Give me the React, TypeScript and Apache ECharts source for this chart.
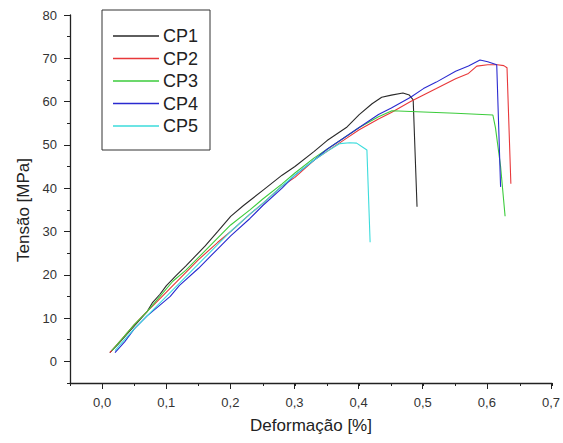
import React, { useEffect, useRef } from "react";
import * as echarts from "echarts";

const seriesNames = ["CP1", "CP2", "CP3", "CP4", "CP5"];
const seriesColors = ["#2a2a2a", "#e8383a", "#3ccc3c", "#2a2ad0", "#3cdcdc"];

const cp1Strain = [0.012, 0.025, 0.04, 0.055, 0.07, 0.078, 0.09, 0.1, 0.115, 0.13, 0.145, 0.16, 0.18, 0.2, 0.22, 0.25, 0.28, 0.3, 0.33, 0.35, 0.38, 0.4, 0.42, 0.435, 0.45, 0.468, 0.478, 0.484, 0.49];
const cp1Stress = [2, 4, 6.5, 9, 11.5, 13.5, 15.5, 17.5, 19.8, 22, 24.3, 26.6, 30, 33.5, 36, 39.5, 43, 45, 48.5, 51, 54, 57, 59.5, 61, 61.5, 62, 61.5, 60.4, 35.7];

const cp2Strain = [0.012, 0.03, 0.05, 0.065, 0.08, 0.1, 0.12, 0.15, 0.18, 0.2, 0.23, 0.25, 0.28, 0.3, 0.33, 0.35, 0.38, 0.4, 0.43, 0.45, 0.48, 0.5, 0.52, 0.55, 0.57, 0.583, 0.6, 0.615, 0.625, 0.63, 0.636];
const cp2Stress = [2, 5, 8.5, 10.8, 13, 16, 19, 23.5, 27.5, 30, 34, 36.5, 40.5, 42.5, 46.5, 48.5, 51.5, 53.5, 56, 57.5, 60, 61.5, 63, 65.3, 66.5, 68.2, 68.5, 68.5, 68.3, 67.8, 41];

const cp3Strain = [0.015, 0.03, 0.05, 0.07, 0.09, 0.11, 0.13, 0.15, 0.18, 0.2, 0.23, 0.25, 0.28, 0.3, 0.33, 0.35, 0.38, 0.4, 0.43, 0.451, 0.5, 0.55, 0.608, 0.612, 0.62, 0.627];
const cp3Stress = [2.5, 5, 8.5, 11.5, 15, 18.5, 21, 24, 28.5, 31.5, 35, 37.5, 41, 43.5, 47, 49, 52, 54, 56.5, 57.9, 57.6, 57.3, 56.9, 54, 45, 33.5];

const cp4Strain = [0.02, 0.035, 0.05, 0.07, 0.09, 0.106, 0.12, 0.15, 0.18, 0.2, 0.23, 0.25, 0.28, 0.3, 0.33, 0.35, 0.38, 0.4, 0.43, 0.45, 0.48, 0.5, 0.52, 0.55, 0.57, 0.588, 0.6, 0.614, 0.62];
const cp4Stress = [2, 4.5, 7.5, 10.5, 13, 15, 17.5, 21.5, 26, 29, 33, 36, 40, 43, 46.5, 49, 52, 54, 57, 58.5, 61, 63, 64.5, 67, 68.2, 69.6, 69.2, 68.5, 40.3];

const cp5Strain = [0.02, 0.035, 0.05, 0.07, 0.1, 0.12, 0.15, 0.18, 0.2, 0.23, 0.25, 0.28, 0.3, 0.33, 0.35, 0.37, 0.385, 0.396, 0.405, 0.412, 0.417];
const cp5Stress = [2.5, 5, 7.5, 10.5, 15, 18, 22.5, 27, 30, 34, 36.5, 40.5, 43, 46.5, 48.5, 50.3, 50.5, 50.4, 49.5, 48.8, 27.5];

const strains = [cp1Strain, cp2Strain, cp3Strain, cp4Strain, cp5Strain];
const stresses = [cp1Stress, cp2Stress, cp3Stress, cp4Stress, cp5Stress];

const X_MIN = -0.05, X_MAX = 0.7, X_MAJOR = 0.1, X_MINOR = 0.05;
const Y_MIN = -5, Y_MAX = 80, Y_MAJOR = 10, Y_MINOR = 5;

const FONT = "'Liberation Sans', Arial, sans-serif";

export default function App() {
  const ref = useRef<HTMLDivElement>(null);
  useEffect(() => {
    if (!ref.current) return;
    const chart = echarts.init(ref.current, undefined, { renderer: "svg" });
    const W = 563, H = 443;
    const gl = 70, gr = 11, gt = 15, gb = 60;
    const pw = W - gl - gr, ph = H - gt - gb;
    // offsets so that the major-tick axes start at 0 (a multiple of their interval)
    const yShift = ((0 - Y_MIN) / (Y_MAX - Y_MIN)) * ph;
    const xShift = ((0 - X_MIN) / (X_MAX - X_MIN)) * pw;
    const tickColor = "#222";
    const labelStyle = { fontSize: 13, color: "#333", fontFamily: FONT };
    const iconPath = "path://M0,0L0,0Z M0,8.3L46,8.3L46,9.7L0,9.7Z M46,18L46,18Z";
    const hidden = {
      show: false,
      axisLine: { show: false, onZero: false },
      axisTick: { show: false },
      axisLabel: { show: false },
      splitLine: { show: false },
    };
    chart.setOption({
      animation: false,
      backgroundColor: "#fff",
      grid: [
        { left: gl, right: gr, top: gt, bottom: gb },
        { left: gl, right: gr, top: gt, bottom: gb + yShift },
        { left: gl + xShift, right: gr, top: gt, bottom: gb },
      ],
      legend: {
        orient: "vertical",
        left: 102,
        top: 10,
        data: seriesNames,
        icon: iconPath,
        itemWidth: 46,
        itemHeight: 18,
        itemGap: 4.5,
        padding: [17, 12, 15, 11],
        borderColor: "#333",
        borderWidth: 1,
        textStyle: { fontSize: 18, lineHeight: 18, color: "#222", fontFamily: FONT, padding: [0, 0, 0, -1] },
      },
      xAxis: [
        {
          gridIndex: 0,
          type: "value",
          position: "bottom",
          min: X_MIN,
          max: X_MAX,
          interval: X_MINOR,
          name: "Deformação [%]",
          nameLocation: "middle",
          nameGap: 34,
          nameTextStyle: { fontSize: 17, color: "#222", fontFamily: FONT },
          axisLine: { show: true, onZero: false, lineStyle: { color: "#222", width: 1.3 } },
          axisTick: { show: true, length: 3, lineStyle: { color: tickColor } },
          axisLabel: { show: false },
          splitLine: { show: false },
        },
        { gridIndex: 1, type: "value", min: X_MIN, max: X_MAX, ...hidden },
        {
          gridIndex: 2,
          type: "value",
          position: "bottom",
          min: 0,
          max: X_MAX,
          interval: X_MAJOR,
          axisLine: { show: false, onZero: false },
          axisTick: { show: true, length: 6, lineStyle: { color: tickColor } },
          axisLabel: {
            ...labelStyle,
            margin: 13,
            formatter: (v: number) => v.toFixed(1).replace(".", ","),
          },
          splitLine: { show: false },
        },
      ],
      yAxis: [
        {
          gridIndex: 0,
          type: "value",
          position: "left",
          min: Y_MIN,
          max: Y_MAX,
          interval: Y_MINOR,
          name: "Tensão [MPa]",
          nameLocation: "middle",
          nameGap: 38,
          nameTextStyle: { fontSize: 17, color: "#222", fontFamily: FONT, padding: [0, 22, 0, 0] },
          axisLine: { show: true, onZero: false, lineStyle: { color: "#222", width: 1.3 } },
          axisTick: { show: true, length: 3, lineStyle: { color: tickColor } },
          axisLabel: { show: false },
          splitLine: { show: false },
        },
        {
          gridIndex: 1,
          type: "value",
          position: "left",
          min: 0,
          max: Y_MAX,
          interval: Y_MAJOR,
          axisLine: { show: false, onZero: false },
          axisTick: { show: true, length: 6, lineStyle: { color: tickColor } },
          axisLabel: { ...labelStyle, margin: 13 },
          splitLine: { show: false },
        },
        { gridIndex: 2, type: "value", min: Y_MIN, max: Y_MAX, ...hidden },
      ],
      series: seriesNames.map((name, i) => ({
        name,
        type: "line",
        xAxisIndex: 0,
        yAxisIndex: 0,
        symbol: "none",
        color: seriesColors[i],
        lineStyle: { width: 1.1, color: seriesColors[i] },
        data: strains[i].map((x, k) => [x, stresses[i][k]]),
      })),
    });
    return () => chart.dispose();
  }, []);
  return <div ref={ref} style={{ width: 563, height: 443, position: "absolute", left: 0, top: 0 }} />;
}
